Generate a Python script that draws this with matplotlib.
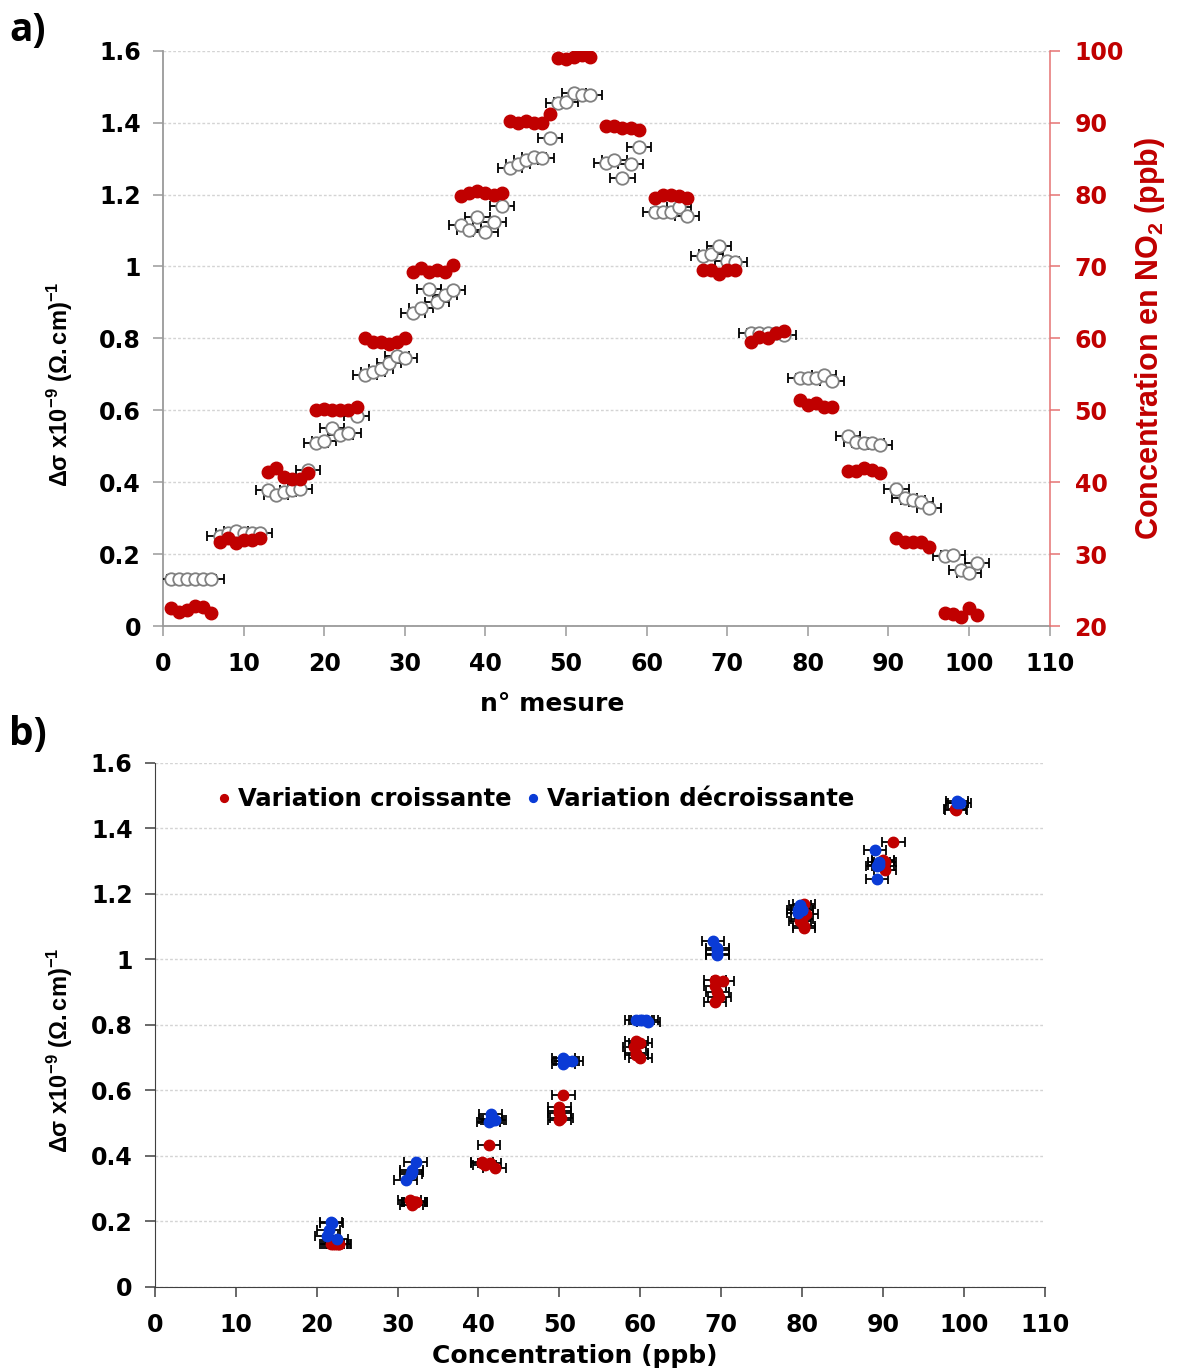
import matplotlib
matplotlib.use("Agg")
import matplotlib.pyplot as plt
import numpy as np
from matplotlib.ticker import FuncFormatter, MultipleLocator

plt.rcParams['font.family'] = ['DejaVu Sans']
plt.rcParams['mathtext.fontset'] = 'custom'
plt.rcParams['mathtext.rm'] = 'Liberation Sans:bold'
plt.rcParams['mathtext.it'] = 'Liberation Sans:bold'
plt.rcParams['mathtext.bf'] = 'Liberation Sans:bold'

# ---------------- data ----------------
# measurement number (n° mesure)
mesure = ([1, 2, 3, 4, 5, 6, 7, 8, 9, 10, 11, 12, 13, 14, 15, 16, 17, 18,
           19, 20, 21, 22, 23, 24, 25, 26, 27, 28, 29, 30, 31, 32, 33, 34, 35, 36,
           37, 38, 39, 40, 41, 42, 43, 44, 45, 46, 47, 48, 49, 50, 51, 52, 53,
           55, 56, 57, 58, 59, 61, 62, 63, 64, 65, 67, 68, 69, 70, 71,
           73, 74, 75, 76, 77, 79, 80, 81, 82, 83, 85, 86, 87, 88, 89,
           91, 92, 93, 94, 95, 97, 98, 99, 100, 101])

# NO2 concentration (ppb), right axis
conc_no2 = [22.5, 22.0, 22.3, 22.8, 22.7, 21.8,
            31.75, 32.25, 31.5, 32.0, 32.0, 32.25,
            41.4, 42.0, 40.75, 40.45, 40.45, 41.3,
            50.0, 50.25, 50.0, 50.0, 50.0, 50.5,
            60.0, 59.5, 59.5, 59.25, 59.5, 60.0,
            69.25, 69.75, 69.25, 69.5, 69.25, 70.2,
            79.75, 80.25, 80.5, 80.25, 80.0, 80.25,
            90.25, 90.0, 90.25, 90.0, 90.0, 91.25,
            99.0, 98.9, 99.15, 99.45, 99.15,
            89.5, 89.5, 89.25, 89.25, 89.0,
            79.5, 80.0, 80.0, 79.75, 79.5,
            69.5, 69.5, 69.0, 69.5, 69.5,
            59.5, 60.25, 60.0, 60.75, 61.0,
            51.5, 50.75, 51.0, 50.5, 50.5,
            41.5, 41.5, 42.0, 41.75, 41.25,
            32.25, 31.75, 31.75, 31.65, 31.0,
            21.85, 21.75, 21.25, 22.5, 21.5]

# Delta sigma x1e-9 (Ohm.cm)^-1, left axis
delta_sigma = [0.13, 0.13, 0.13, 0.13, 0.13, 0.13,
               0.25, 0.26, 0.265, 0.26, 0.26, 0.26,
               0.378, 0.364, 0.373, 0.378, 0.381, 0.434,
               0.51, 0.515, 0.55, 0.53, 0.537, 0.585,
               0.698, 0.707, 0.715, 0.732, 0.751, 0.746,
               0.871, 0.885, 0.937, 0.90, 0.92, 0.935,
               1.116, 1.102, 1.138, 1.096, 1.124, 1.169,
               1.274, 1.285, 1.297, 1.305, 1.302, 1.358,
               1.455, 1.458, 1.483, 1.477, 1.477,
               1.288, 1.297, 1.247, 1.286, 1.333,
               1.152, 1.152, 1.152, 1.166, 1.141,
               1.03, 1.035, 1.057, 1.016, 1.013,
               0.815, 0.815, 0.815, 0.815, 0.81,
               0.69, 0.69, 0.69, 0.698, 0.682,
               0.529, 0.512, 0.509, 0.509, 0.504,
               0.381, 0.356, 0.351, 0.345, 0.328,
               0.195, 0.198, 0.156, 0.147, 0.175]

err_mesure = 1.5   # horizontal error bar, panel a
err_conc = 1.4     # horizontal error bar, panel b
last_croissante = 50  # last measurement of the increasing phase

legend_labels = ["Variation croissante", "Variation décroissante"]

RED = "#C00000"
BLUE = "#0A3BD6"

mesure = np.array(mesure)
conc_no2 = np.array(conc_no2)
delta_sigma = np.array(delta_sigma)
up = mesure <= last_croissante

fmt = FuncFormatter(lambda v, p: f"{v:g}")
TS = 17
YLAB = r"Δσ $\mathregular{x10^{-9}}$ $\mathregular{(Ω.cm)^{-1}}$"

fig = plt.figure(figsize=(11.82, 13.70), dpi=100)

# ---------------- panel a ----------------
ax = fig.add_axes([0.138, 0.543, 0.750, 0.420])
ax.errorbar(mesure, delta_sigma, xerr=err_mesure, fmt='o', ms=9,
            mfc='white', mec='#808080', mew=1.3, ecolor='black',
            elinewidth=1.3, capsize=3.5, capthick=1.3, zorder=3)
ax.set_xlim(0, 110)
ax.set_ylim(0, 1.6)
ax.xaxis.set_major_locator(MultipleLocator(10))
ax.yaxis.set_major_locator(MultipleLocator(0.2))
ax.yaxis.set_major_formatter(fmt)
ax.grid(axis='y', color='#d4d4d4', linestyle=(0, (2, 1.5)), linewidth=1.0, zorder=0)
ax.set_axisbelow(True)
for s in ['top', 'right']:
    ax.spines[s].set_visible(False)
ax.spines['left'].set_color('#9a9a9a')
ax.spines['bottom'].set_color('#9a9a9a')
ax.spines['left'].set_linewidth(1.3)
ax.spines['bottom'].set_linewidth(1.3)
ax.tick_params(axis='both', direction='out', length=7, width=1.1, color='#9a9a9a',
               labelsize=TS)
ax.tick_params(axis='y', pad=9)
ax.tick_params(axis='x', pad=12)
for lab in ax.get_xticklabels() + ax.get_yticklabels():
    lab.set_fontweight('bold')
ax.set_xlabel("n° mesure", fontsize=18, fontweight='bold')
ax.xaxis.set_label_coords(0.439, -0.115)
ax.set_ylabel(YLAB, fontsize=17, fontweight='bold', family='Liberation Sans')
ax.yaxis.set_label_coords(-0.099, 0.42)

ax2 = ax.twinx()
ax2.plot(mesure, conc_no2, 'o', color=RED, ms=9, zorder=4)
ax2.set_ylim(20, 100)
ax2.yaxis.set_major_locator(MultipleLocator(10))
for s in ['top', 'left', 'bottom']:
    ax2.spines[s].set_visible(False)
ax2.spines['right'].set_color('#e57373')
ax2.spines['right'].set_linewidth(1.1)
ax2.tick_params(axis='y', direction='out', length=7, width=1.1, color='#e57373',
                labelcolor=RED, labelsize=TS, pad=11)
for lab in ax2.get_yticklabels():
    lab.set_fontweight('bold')
ax2.set_ylabel(r"Concentration en NO$_{2}$ (ppb)", color=RED, fontsize=22,
               fontweight='bold', family='Liberation Sans')
ax2.yaxis.set_label_coords(1.094, 0.5)

fig.text(0.008, 0.992, "a)", fontsize=28, fontweight='bold', family='Open Sans',
         va='top', ha='left')

# ---------------- panel b ----------------
bx = fig.add_axes([0.131, 0.0606, 0.753, 0.3825])
bx.errorbar(conc_no2[up], delta_sigma[up], xerr=err_conc, fmt='none',
            ecolor='black', elinewidth=1.3, capsize=3.5, capthick=1.3, zorder=2)
bx.errorbar(conc_no2[~up], delta_sigma[~up], xerr=err_conc, fmt='none',
            ecolor='black', elinewidth=1.3, capsize=3.5, capthick=1.3, zorder=2)
bx.plot(conc_no2[up], delta_sigma[up], 'o', color=RED, ms=7.5, zorder=3,
        label=legend_labels[0])
bx.plot(conc_no2[~up], delta_sigma[~up], 'o', color=BLUE, ms=7.5, zorder=4,
        label=legend_labels[1])
bx.set_xlim(0, 110)
bx.set_ylim(0, 1.6)
bx.xaxis.set_major_locator(MultipleLocator(10))
bx.yaxis.set_major_locator(MultipleLocator(0.2))
bx.yaxis.set_major_formatter(fmt)
bx.grid(axis='y', color='#d4d4d4', linestyle=(0, (2, 1.5)), linewidth=1.0, zorder=0)
bx.set_axisbelow(True)
for s in ['top', 'right']:
    bx.spines[s].set_visible(False)
bx.spines['left'].set_color('#404040')
bx.spines['bottom'].set_color('#404040')
bx.tick_params(axis='both', direction='out', length=7, width=1.1, color='#404040',
               labelsize=TS)
bx.tick_params(axis='y', pad=9)
bx.tick_params(axis='x', pad=12)
for lab in bx.get_xticklabels() + bx.get_yticklabels():
    lab.set_fontweight('bold')
bx.set_xlabel("Concentration (ppb)", fontsize=18, fontweight='bold')
bx.xaxis.set_label_coords(0.472, -0.108)
bx.set_ylabel(YLAB, fontsize=17, fontweight='bold', family='Liberation Sans')
bx.yaxis.set_label_coords(-0.09, 0.452)
leg = bx.legend(loc='upper left', bbox_to_anchor=(0.04, 0.995), ncol=2, frameon=False,
                prop=dict(size=17.5, weight='bold'), handletextpad=0.05,
                columnspacing=0.4, markerscale=0.75, handlelength=1.0)

fig.text(0.008, 0.478, "b)", fontsize=28, fontweight='bold', family='Open Sans',
         va='top', ha='left')

fig.savefig("out.png", dpi=100)
